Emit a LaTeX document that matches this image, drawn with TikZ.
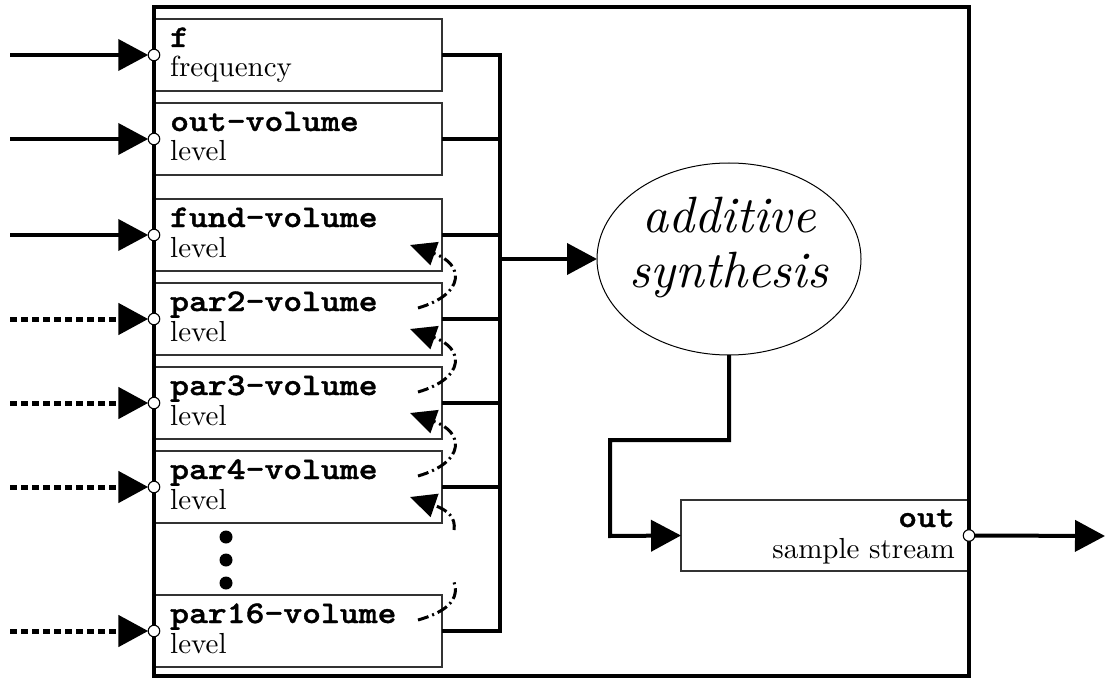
\documentclass[tikz,border=0pt]{standalone}
\usepackage{fontspec}
\newfontfamily\cmono{lmmonolt10-bold}[Extension=.otf,FakeStretch=1.14,FakeBold=1.2]
\newfontfamily\cserif{lmroman10-regular}[Extension=.otf,ItalicFont=lmroman10-italic]
\usetikzlibrary{arrows.meta,shapes.geometric}
\tikzset{
  frame/.style={draw=black,line width=3.5pt,minimum width=815pt,minimum height=669pt,anchor=north west,inner sep=0pt,outer sep=0pt},
  inbox/.style={draw=black!80,fill=white,line width=1.2pt,minimum width=288pt,minimum height=72pt,anchor=north west,inner sep=0pt,outer sep=0pt},
  port/.style={circle,draw=black,fill=white,line width=1.1pt,minimum size=11.5pt,inner sep=0pt,outer sep=0pt},
  dotnode/.style={circle,fill=black,minimum size=13pt,inner sep=0pt},
  conn/.style={line width=4pt,line join=miter},
  bigtip/.style={-{Triangle[length=30pt,width=31pt]}},
  solidin/.style={conn,bigtip},
  dottedin/.style={conn,line width=5pt,bigtip,dash pattern=on 7pt off 4pt},
  feedback/.style={line width=3pt,dash pattern=on 11pt off 4pt on 2pt off 4pt,-{Triangle[length=26pt,width=24pt]}},
  feedbackplain/.style={line width=3pt,dash pattern=on 11pt off 4pt on 2pt off 4pt},
  mono/.style={anchor=base west,inner sep=0pt,font=\fontsize{31.5}{36}\cmono},
  serif/.style={anchor=base west,inner sep=0pt,font=\fontsize{29}{34}\cserif},
  big/.style={anchor=base,inner sep=0pt,font=\fontsize{51}{55}\cserif\itshape}
}
\begin{document}
\begin{tikzpicture}[x=1pt,y=-1pt]
\useasboundingbox (0,0) rectangle (1105,679);

% input boxes
\node[inbox] (b1) at (154,19) {};
\node[inbox] (b2) at (154,103) {};
\node[inbox] (b3) at (154,199) {};
\node[inbox] (b4) at (154,283) {};
\node[inbox] (b5) at (154,367) {};
\node[inbox] (b6) at (154,451) {};
\node[inbox] (b7) at (154,595) {};

% out box
\node[inbox,minimum height=71pt] (ob) at (681,500) {};

% frame
\node[frame] (sys) at (154,7) {};

% labels
\node[mono]  (l1a) at (170,47) {f};
\node[serif] (l1b) at (170,77) {frequency};
\node[mono]  (l2a) at (170,131) {out-volume};
\node[serif] (l2b) at (170,161) {level};
\node[mono]  (l3a) at (170,227) {fund-volume};
\node[serif] (l3b) at (170,257) {level};
\node[mono]  (l4a) at (170,311) {par2-volume};
\node[serif] (l4b) at (170,341) {level};
\node[mono]  (l5a) at (170,395) {par3-volume};
\node[serif] (l5b) at (170,425) {level};
\node[mono]  (l6a) at (170,479) {par4-volume};
\node[serif] (l6b) at (170,509) {level};
\node[mono]  (l7a) at (170,623) {par16-volume};
\node[serif] (l7b) at (170,653) {level};
\node[mono,anchor=base east]  (loa) at (955,527) {out};
\node[serif,anchor=base east] (lob) at (955,558) {sample stream};

% ellipse
\node[ellipse,draw=black,line width=1pt,minimum width=264pt,minimum height=192pt,inner sep=0pt,outer sep=0pt] (synth) at (729,259) {};
\node[big] (s1) at (729,232) {additive};
\node[big] (s2) at (729,287) {synthesis};

% dots
\node[dotnode] (d1) at (226,537) {};
\node[dotnode] (d2) at (226,560) {};
\node[dotnode] (d3) at (226,583) {};

% input sources
\coordinate (i1) at (10,55);
\coordinate (i2) at (10,139);
\coordinate (i3) at (10,235);
\coordinate (i4) at (10,319);
\coordinate (i5) at (10,403);
\coordinate (i6) at (10,487);
\coordinate (i7) at (10,631);

% ports
\node[port] (p1) at (b1.west) {};
\node[port] (p2) at (b2.west) {};
\node[port] (p3) at (b3.west) {};
\node[port] (p4) at (b4.west) {};
\node[port] (p5) at (b5.west) {};
\node[port] (p6) at (b6.west) {};
\node[port] (p7) at (b7.west) {};

\draw[solidin] (i1) -- (p1.west);
\draw[solidin] (i2) -- (p2.west);
\draw[solidin] (i3) -- (p3.west);
\draw[dottedin] (i4) -- (p4.west);
\draw[dottedin] (i5) -- (p5.west);
\draw[dottedin] (i6) -- (p6.west);
\draw[dottedin] (i7) -- (p7.west);

% bus
\coordinate (bt) at (500,55);
\coordinate (bb) at (500,631);
\coordinate (bm) at (500,259);
\draw[conn] (b1.east) -- (bt) -- (bb) -- (b7.east);
\draw[conn] (b2.east) -- (b2.east -| bt);
\draw[conn] (b3.east) -- (b3.east -| bt);
\draw[conn] (b4.east) -- (b4.east -| bt);
\draw[conn] (b5.east) -- (b5.east -| bt);
\draw[conn] (b6.east) -- (b6.east -| bt);
\draw[conn,bigtip] (bm) -- (synth.west);

% synth to out
\coordinate (k1) at (729,440);
\coordinate (k2) at (610,440);
\coordinate (k3) at (610,536);
\draw[conn,bigtip] (synth.south) -- (k1) -- (k2) -- (k3) -- (ob.west);
\coordinate (oend) at (1105,536);
\node[port] (po) at (ob.east) {};
\draw[conn,bigtip] (po.east) -- (oend);

% feedback curves
\coordinate (f4) at (418,308);
\coordinate (t3) at (410,245);
\draw[feedback] (f4) .. controls (466,294) and (464,264) .. (t3);
\coordinate (f5) at (418,392);
\coordinate (t4) at (410,329);
\draw[feedback] (f5) .. controls (466,378) and (464,348) .. (t4);
\coordinate (f6) at (418,476);
\coordinate (t5) at (410,413);
\draw[feedback] (f6) .. controls (466,462) and (464,432) .. (t5);
\coordinate (c6) at (454,530);
\coordinate (t6) at (410,497);
\draw[feedback] (c6) .. controls (456,518) and (448,510) .. (t6);
\coordinate (f7) at (418,620);
\coordinate (c7) at (454,582);
\draw[feedbackplain] (f7) .. controls (446,612) and (460,600) .. (c7);
\end{tikzpicture}
\end{document}
